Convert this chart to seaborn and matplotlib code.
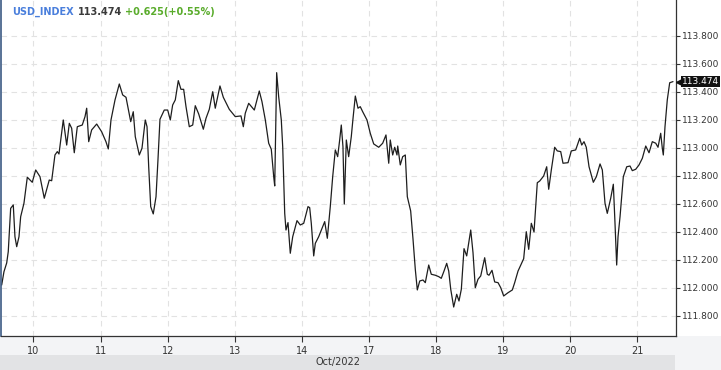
import matplotlib
matplotlib.use("Agg")
import matplotlib.pyplot as plt
import matplotlib.transforms as mtransforms
from matplotlib.patches import Rectangle
import seaborn as sns
import pandas as pd

# ---- data ----
day_labels = ["10", "11", "12", "13", "14", "17", "18", "19", "20", "21"]
month_label = "Oct/2022"
symbol = "USD_INDEX"
last_price = 113.474
change = 0.625
change_pct = 0.55

# time in trading-day units (0 = Oct 10)
t_days = [
    -0.474, -0.440, -0.399, -0.376, -0.340, -0.301, -0.276, -0.250, -0.216, -0.191,
    -0.142, -0.092, -0.018, 0.033, 0.097, 0.161, 0.235, 0.271, 0.320, 0.355,
    0.380, 0.444, 0.495, 0.534, 0.569, 0.608, 0.653, 0.727, 0.768, 0.793,
    0.823, 0.867, 0.942, 1.016, 1.080, 1.115, 1.155, 1.215, 1.279, 1.329,
    1.379, 1.449, 1.487, 1.517, 1.577, 1.617, 1.666, 1.692, 1.717, 1.747,
    1.785, 1.826, 1.855, 1.885, 1.949, 2.000, 2.039, 2.074, 2.113, 2.158,
    2.198, 2.238, 2.273, 2.322, 2.373, 2.411, 2.462, 2.531, 2.571, 2.620,
    2.671, 2.709, 2.779, 2.829, 2.918, 3.007, 3.092, 3.127, 3.156, 3.207,
    3.291, 3.365, 3.405, 3.455, 3.505, 3.544, 3.580, 3.595, 3.624, 3.654,
    3.693, 3.714, 3.744, 3.763, 3.793, 3.827, 3.863, 3.927, 3.976, 4.027,
    4.091, 4.116, 4.140, 4.176, 4.200, 4.250, 4.340, 4.379, 4.423, 4.459,
    4.498, 4.533, 4.563, 4.587, 4.612, 4.632, 4.662, 4.697, 4.736, 4.762,
    4.796, 4.836, 4.870, 4.906, 4.970, 5.019, 5.070, 5.145, 5.204, 5.253,
    5.294, 5.317, 5.353, 5.383, 5.417, 5.428, 5.466, 5.502, 5.541, 5.571,
    5.621, 5.656, 5.690, 5.720, 5.756, 5.805, 5.839, 5.890, 5.928, 5.988,
    6.039, 6.077, 6.118, 6.158, 6.188, 6.218, 6.262, 6.307, 6.341, 6.376,
    6.416, 6.456, 6.486, 6.516, 6.550, 6.584, 6.624, 6.665, 6.724, 6.763,
    6.788, 6.833, 6.873, 6.923, 6.963, 7.007, 7.071, 7.136, 7.171, 7.221,
    7.305, 7.344, 7.380, 7.419, 7.459, 7.508, 7.544, 7.603, 7.648, 7.678,
    7.717, 7.767, 7.806, 7.857, 7.891, 7.966, 8.015, 8.080, 8.140, 8.170,
    8.204, 8.238, 8.279, 8.343, 8.388, 8.443, 8.477, 8.517, 8.551, 8.602,
    8.641, 8.666, 8.691, 8.711, 8.741, 8.790, 8.841, 8.890, 8.924, 8.975,
    9.024, 9.073, 9.124, 9.173, 9.222, 9.273, 9.307, 9.347, 9.371, 9.386,
    9.411, 9.445, 9.481, 9.530,
]
prices = [
    112.021, 112.116, 112.179, 112.259, 112.569, 112.593, 112.366, 112.295, 112.366, 112.509,
    112.605, 112.791, 112.755, 112.843, 112.795, 112.641, 112.771, 112.766, 112.950, 112.974,
    112.957, 113.200, 113.021, 113.176, 113.141, 112.966, 113.152, 113.164, 113.224, 113.284,
    113.045, 113.129, 113.171, 113.116, 113.045, 112.993, 113.200, 113.343, 113.457, 113.379,
    113.362, 113.188, 113.259, 113.081, 112.950, 112.998, 113.200, 113.152, 112.866, 112.581,
    112.529, 112.652, 112.914, 113.205, 113.271, 113.271, 113.200, 113.307, 113.343, 113.481,
    113.419, 113.419, 113.295, 113.152, 113.164, 113.302, 113.243, 113.134, 113.212, 113.276,
    113.402, 113.284, 113.443, 113.362, 113.276, 113.224, 113.229, 113.152, 113.248, 113.319,
    113.271, 113.407, 113.331, 113.200, 113.034, 112.991, 112.795, 112.729, 113.538, 113.366,
    113.200, 113.009, 112.533, 112.414, 112.467, 112.248, 112.366, 112.481, 112.450, 112.462,
    112.581, 112.574, 112.462, 112.229, 112.319, 112.366, 112.474, 112.355, 112.581, 112.795,
    112.986, 112.938, 113.057, 113.164, 113.009, 112.600, 113.057, 112.938, 113.081, 113.212,
    113.371, 113.284, 113.295, 113.259, 113.200, 113.105, 113.029, 113.005, 113.034, 113.093,
    112.891, 113.057, 112.950, 113.005, 112.950, 113.014, 112.879, 112.938, 112.950, 112.652,
    112.550, 112.348, 112.133, 111.986, 112.050, 112.057, 112.038, 112.164, 112.098, 112.091,
    112.081, 112.069, 112.121, 112.176, 112.121, 111.991, 111.864, 111.955, 111.907, 111.991,
    112.281, 112.229, 112.324, 112.414, 112.252, 112.002, 112.062, 112.086, 112.216, 112.098,
    112.091, 112.126, 112.043, 112.038, 112.002, 111.943, 111.966, 111.986, 112.038, 112.121,
    112.209, 112.402, 112.276, 112.462, 112.400, 112.752, 112.764, 112.800, 112.866, 112.705,
    112.843, 113.005, 112.979, 112.974, 112.891, 112.895, 112.979, 112.986, 113.069, 113.021,
    113.045, 113.005, 112.866, 112.755, 112.795, 112.886, 112.843, 112.605, 112.533, 112.641,
    112.741, 112.462, 112.164, 112.366, 112.509, 112.795, 112.866, 112.871, 112.838, 112.848,
    112.879, 112.926, 113.014, 112.966, 113.045, 113.034, 113.005, 113.105, 112.998, 112.950,
    113.152, 113.343, 113.466, 113.474,
]
y_ticks = [111.8, 112.0, 112.2, 112.4, 112.6, 112.8, 113.0, 113.2, 113.4, 113.6, 113.8]

df = pd.DataFrame({"t": t_days, "price": prices})

sns.set_style("white")
plt.rcParams["font.family"] = ["DejaVu Sans"]

W, H = 721, 370
fig = plt.figure(figsize=(W / 100, H / 100), dpi=100)
fig.patch.set_facecolor("white")

# bottom bands (behind everything)
fig.patches.append(Rectangle((0, 0), 1, 34 / H, transform=fig.transFigure,
                             facecolor="#f3f4f6", edgecolor="none", zorder=-5))
fig.patches.append(Rectangle((0, 0), 675 / W, 15 / H, transform=fig.transFigure,
                             facecolor="#e2e3e5", edgecolor="none", zorder=-4))

ax = fig.add_axes([1 / W, 34 / H, 675 / W, 336 / H])
ax.set_facecolor("white")

sns.lineplot(data=df, x="t", y="price", ax=ax, color="#1e1e1e", linewidth=0.9,
             estimator=None, sort=False)

ax.set_xlim(-0.484, 9.575)
ax.set_ylim(111.657, 114.057)

ax.yaxis.tick_right()
ax.set_yticks(y_ticks)
ax.set_yticklabels([f"{v:.3f}" for v in y_ticks])
ax.set_xticks(range(len(day_labels)))
ax.set_xticklabels(day_labels)
ax.tick_params(axis="y", which="both", right=True, left=False, length=3, width=0.8,
               color="#333333", labelsize=6.5, labelcolor="#333333", pad=1.5)
ax.tick_params(axis="x", which="both", bottom=True, length=4, width=0.8,
               color="#333333", labelsize=7, labelcolor="#333333", pad=3)
ax.set_xlabel("")
ax.set_ylabel("")

ax.grid(True, linestyle=(0, (5, 4)), color="#e2e2e2", linewidth=0.8)
ax.set_axisbelow(True)

ax.spines["top"].set_visible(False)
ax.spines["left"].set_color("#3c5a84")
ax.spines["left"].set_linewidth(1.2)
ax.spines["right"].set_color("#333333")
ax.spines["right"].set_linewidth(0.9)
ax.spines["bottom"].set_color("#333333")
ax.spines["bottom"].set_linewidth(0.9)

# month label
fig.text(337.5 / W, 7.5 / H, month_label, ha="center", va="center", fontsize=7,
         color="#333333")

# title
tr = ax.transAxes
t1 = ax.text(11 / 675, 1 - 12 / 336, symbol, transform=tr, fontsize=7, fontweight="bold",
             color="#4a7fdc", ha="left", va="center")
fig.canvas.draw()
renderer = fig.canvas.get_renderer()
bb = t1.get_window_extent(renderer)
x2 = bb.x1 + 4
t2 = fig.text(x2 / W, 1 - 12 / H, f"{last_price:.3f}", fontsize=7, fontweight="bold",
              color="#3a3a3a", ha="left", va="center")
bb2 = t2.get_window_extent(renderer)
fig.text((bb2.x1 + 3) / W, 1 - 12 / H, f"+{change:.3f}(+{change_pct:.2f}%)", fontsize=7,
         fontweight="bold", color="#5aac2c", ha="left", va="center")

# last-price tag
blend = mtransforms.blended_transform_factory(ax.transAxes, ax.transData)
ax.plot([1.0 + 3.5 / 675], [last_price], marker="<", markersize=6, color="#111111",
        transform=blend, clip_on=False, zorder=5)
ax.text(1.0 + 6 / 675, last_price, f"{last_price:.3f}", transform=blend, fontsize=6.5,
        color="white", ha="left", va="center", clip_on=False, zorder=6,
        bbox=dict(boxstyle="square,pad=0.15", facecolor="#111111", edgecolor="none"))

fig.savefig("out.png", dpi=100, facecolor=fig.get_facecolor())
